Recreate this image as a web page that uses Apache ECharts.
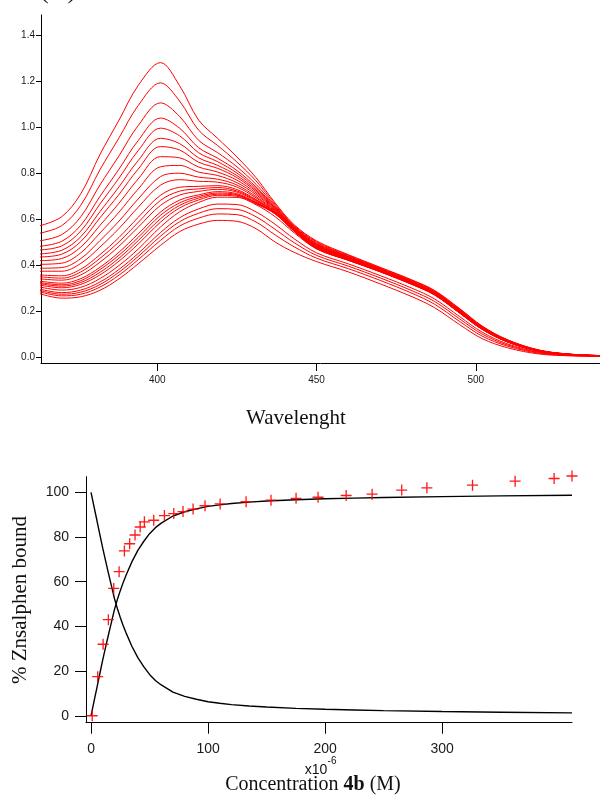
<!DOCTYPE html>
<html><head><meta charset="utf-8">
<script src="https://cdn.jsdelivr.net/npm/echarts@6/dist/echarts.min.js"></script>
<style>html,body{margin:0;padding:0;background:#fff}#c{width:600px;height:796px}</style>
</head><body><div id="c"></div>
<script>
// ---------- Panel A: absorption spectra ----------
const wavelengths = [363, 370, 376, 382, 388, 394, 401, 407, 413, 419, 425, 431, 437, 443, 450, 460, 470, 480, 487, 495, 502, 510, 520, 530, 540];
const spectrum01 = [0.57, 0.61, 0.71, 0.88, 1.03, 1.18, 1.28, 1.18, 1.03, 0.95, 0.87, 0.78, 0.67, 0.575, 0.505, 0.445, 0.39, 0.335, 0.29, 0.21, 0.135, 0.075, 0.03, 0.012, 0.006];
const spectrum02 = [0.538, 0.571, 0.66, 0.814, 0.953, 1.093, 1.192, 1.113, 0.986, 0.919, 0.848, 0.766, 0.664, 0.571, 0.501, 0.442, 0.388, 0.333, 0.288, 0.208, 0.133, 0.074, 0.029, 0.012, 0.006];
const spectrum03 = [0.505, 0.532, 0.61, 0.748, 0.875, 1.006, 1.105, 1.046, 0.942, 0.888, 0.827, 0.751, 0.658, 0.568, 0.497, 0.439, 0.385, 0.33, 0.285, 0.205, 0.131, 0.073, 0.029, 0.012, 0.006];
const spectrum04 = [0.481, 0.503, 0.573, 0.698, 0.817, 0.941, 1.039, 0.995, 0.91, 0.864, 0.811, 0.74, 0.653, 0.565, 0.493, 0.437, 0.383, 0.328, 0.283, 0.203, 0.13, 0.072, 0.028, 0.011, 0.006];
const spectrum05 = [0.465, 0.483, 0.548, 0.665, 0.778, 0.897, 0.995, 0.962, 0.888, 0.849, 0.8, 0.733, 0.65, 0.563, 0.491, 0.435, 0.382, 0.327, 0.282, 0.202, 0.129, 0.071, 0.028, 0.011, 0.006];
const spectrum06 = [0.448, 0.464, 0.523, 0.632, 0.74, 0.854, 0.951, 0.928, 0.866, 0.833, 0.789, 0.726, 0.647, 0.561, 0.489, 0.434, 0.381, 0.326, 0.281, 0.201, 0.128, 0.07, 0.028, 0.011, 0.006];
const spectrum07 = [0.435, 0.447, 0.502, 0.605, 0.707, 0.817, 0.915, 0.9, 0.847, 0.82, 0.78, 0.72, 0.645, 0.56, 0.487, 0.432, 0.38, 0.325, 0.28, 0.2, 0.127, 0.07, 0.028, 0.011, 0.006];
const spectrum08 = [0.419, 0.428, 0.478, 0.572, 0.669, 0.774, 0.871, 0.866, 0.826, 0.804, 0.769, 0.713, 0.642, 0.558, 0.485, 0.431, 0.379, 0.324, 0.279, 0.199, 0.127, 0.069, 0.027, 0.011, 0.005];
const spectrum09 = [0.403, 0.408, 0.453, 0.539, 0.63, 0.73, 0.827, 0.833, 0.804, 0.789, 0.758, 0.706, 0.639, 0.556, 0.483, 0.429, 0.378, 0.323, 0.278, 0.198, 0.126, 0.069, 0.027, 0.011, 0.005];
const spectrum10 = [0.386, 0.389, 0.428, 0.506, 0.591, 0.687, 0.784, 0.799, 0.782, 0.773, 0.748, 0.698, 0.636, 0.555, 0.481, 0.428, 0.376, 0.321, 0.276, 0.196, 0.125, 0.068, 0.027, 0.011, 0.005];
const spectrum11 = [0.373, 0.373, 0.407, 0.478, 0.559, 0.651, 0.747, 0.771, 0.764, 0.76, 0.739, 0.692, 0.633, 0.553, 0.479, 0.427, 0.375, 0.32, 0.275, 0.195, 0.124, 0.068, 0.026, 0.011, 0.005];
const spectrum12 = [0.357, 0.353, 0.382, 0.445, 0.52, 0.607, 0.703, 0.738, 0.742, 0.745, 0.728, 0.685, 0.63, 0.551, 0.477, 0.425, 0.374, 0.319, 0.274, 0.194, 0.123, 0.067, 0.026, 0.01, 0.005];
const spectrum13 = [0.349, 0.343, 0.37, 0.429, 0.501, 0.585, 0.681, 0.721, 0.731, 0.737, 0.722, 0.682, 0.629, 0.55, 0.476, 0.424, 0.374, 0.319, 0.274, 0.194, 0.123, 0.067, 0.026, 0.01, 0.005];
const spectrum14 = [0.34, 0.334, 0.357, 0.412, 0.482, 0.564, 0.659, 0.704, 0.72, 0.729, 0.717, 0.678, 0.627, 0.549, 0.475, 0.424, 0.373, 0.318, 0.273, 0.193, 0.122, 0.066, 0.026, 0.01, 0.005];
const spectrum15 = [0.33, 0.321, 0.341, 0.39, 0.456, 0.535, 0.63, 0.682, 0.705, 0.719, 0.71, 0.673, 0.625, 0.548, 0.474, 0.423, 0.372, 0.317, 0.272, 0.192, 0.122, 0.066, 0.026, 0.01, 0.005];
const spectrum16 = [0.324, 0.314, 0.332, 0.38, 0.443, 0.52, 0.616, 0.67, 0.698, 0.713, 0.706, 0.671, 0.624, 0.548, 0.473, 0.422, 0.372, 0.317, 0.272, 0.192, 0.121, 0.066, 0.026, 0.01, 0.005];
const spectrum17 = [0.319, 0.308, 0.324, 0.368, 0.43, 0.506, 0.601, 0.659, 0.691, 0.708, 0.703, 0.668, 0.623, 0.547, 0.472, 0.421, 0.371, 0.316, 0.271, 0.191, 0.121, 0.066, 0.025, 0.01, 0.005];
const spectrum18 = [0.313, 0.301, 0.316, 0.357, 0.417, 0.491, 0.586, 0.648, 0.683, 0.703, 0.699, 0.666, 0.622, 0.546, 0.471, 0.421, 0.371, 0.316, 0.271, 0.191, 0.121, 0.065, 0.025, 0.01, 0.005];
const spectrum19 = [0.305, 0.291, 0.303, 0.341, 0.398, 0.469, 0.565, 0.631, 0.672, 0.695, 0.694, 0.662, 0.61, 0.54, 0.47, 0.42, 0.37, 0.315, 0.27, 0.19, 0.12, 0.065, 0.025, 0.01, 0.005];
const spectrum20 = [0.296, 0.28, 0.291, 0.326, 0.381, 0.45, 0.541, 0.605, 0.644, 0.665, 0.663, 0.631, 0.577, 0.514, 0.453, 0.405, 0.354, 0.299, 0.253, 0.175, 0.108, 0.057, 0.021, 0.008, 0.004];
const spectrum21 = [0.29, 0.273, 0.282, 0.315, 0.369, 0.437, 0.525, 0.588, 0.625, 0.645, 0.642, 0.61, 0.555, 0.497, 0.442, 0.395, 0.344, 0.288, 0.242, 0.165, 0.1, 0.052, 0.019, 0.0075, 0.0035];
const spectrum22 = [0.284, 0.266, 0.273, 0.304, 0.356, 0.423, 0.507, 0.569, 0.604, 0.622, 0.619, 0.587, 0.531, 0.479, 0.43, 0.384, 0.333, 0.277, 0.23, 0.154, 0.091, 0.047, 0.016, 0.006, 0.0025];
const spectrum23 = [0.276, 0.256, 0.262, 0.29, 0.34, 0.405, 0.485, 0.545, 0.578, 0.594, 0.59, 0.558, 0.5, 0.455, 0.415, 0.37, 0.318, 0.262, 0.215, 0.14, 0.08, 0.04, 0.013, 0.005, 0.002];
const spectra = [spectrum01, spectrum02, spectrum03, spectrum04, spectrum05, spectrum06, spectrum07, spectrum08,
  spectrum09, spectrum10, spectrum11, spectrum12, spectrum13, spectrum14, spectrum15, spectrum16,
  spectrum17, spectrum18, spectrum19, spectrum20, spectrum21, spectrum22, spectrum23];
const absTicks = [0.0, 0.2, 0.4, 0.6, 0.8, 1.0, 1.2, 1.4];
const wlTicks = [400, 450, 500];

// ---------- Panel B: binding titration ----------
const concPoints = [1, 5.7, 10.3, 14.8, 19.4, 24, 28.5, 33, 37.6, 42, 45.6, 53.6, 62.7, 70.7, 78.6, 87.2, 97.4, 110.3, 132.5, 153.8, 175.2, 194, 218, 240.2, 265.5, 287, 326, 362.4, 395.7, 411];
const boundPoints = [0, 17.5, 32, 43, 57, 64.5, 73.8, 77, 80.9, 84.5, 86.8, 87.5, 89.6, 90.5, 91.4, 92.5, 94, 94.8, 95.8, 96.5, 97.3, 97.8, 98.6, 99.2, 101, 102, 103.2, 105, 106.2, 107.3];
const fitConc = [0, 2.5, 5, 7.5, 10, 12.5, 15, 17.5, 20, 22.5, 25, 27.5, 30, 35, 40, 45, 50, 55, 60, 70, 80, 90, 100, 110, 120, 135, 150, 175, 200, 225, 250, 300, 350, 411];
const fitBound = [0, 6.3, 12.5, 18.8, 25, 30.8, 36.5, 42, 47.5, 52, 56, 59.7, 63, 69, 74, 78, 81.5, 84.2, 86.2, 89.4, 91.3, 92.6, 93.7, 94.4, 95, 95.6, 96.1, 96.7, 97.1, 97.4, 97.7, 98.1, 98.4, 98.7];
const fitFree = [100, 93.7, 87.5, 81.2, 75, 69.2, 63.5, 58, 52.5, 48, 44, 40.3, 37, 31, 26, 22, 18.5, 15.8, 13.8, 10.6, 8.7, 7.4, 6.3, 5.6, 5, 4.4, 3.9, 3.3, 2.9, 2.6, 2.3, 1.9, 1.6, 1.3];
const concTicks = [0, 100, 200, 300];
const pctTicks = [0, 20, 40, 60, 80, 100];

const SANS = 'Liberation Sans, Arial, sans-serif';
const SERIF = 'Liberation Serif, Times New Roman, serif';
const chart = echarts.init(document.getElementById('c'), null, {renderer: 'canvas'});

const spectrumSeries = spectra.map(s => ({
  type: 'line', xAxisIndex: 0, yAxisIndex: 0,
  data: wavelengths.map((w, j) => [w, s[j]]),
  showSymbol: false, smooth: 0.35, silent: true,
  lineStyle: {color: '#ff0000', width: 1}
}));

function axisCommon(ticks, tickLen, fontSize, margin, fmt) {
  return {
    axisLine: {show: true, onZero: false, lineStyle: {color: '#000', width: 1}},
    axisTick: {show: true, customValues: ticks, length: tickLen, lineStyle: {color: '#000', width: 1}},
    axisLabel: {customValues: ticks, fontSize: fontSize, margin: margin, color: '#1a1a1a', fontFamily: SANS,
      formatter: fmt || (v => String(v))},
    splitLine: {show: false}
  };
}

chart.setOption({
  animation: false,
  backgroundColor: '#fff',
  grid: [
    {left: 41, top: 15, right: 0, height: 348},
    {left: 86, top: 476.7, width: 486, height: 246}
  ],
  xAxis: [
    Object.assign({type: 'value', gridIndex: 0, min: 363.5, max: 539}, axisCommon(wlTicks, 8, 10, 12)),
    Object.assign({type: 'value', gridIndex: 1, min: -4.3, max: 411}, axisCommon(concTicks, 11, 14, 19))
  ],
  yAxis: [
    Object.assign({type: 'value', gridIndex: 0, min: -0.026, max: 1.487}, axisCommon(absTicks, 5, 10, 6, v => v.toFixed(1))),
    Object.assign({type: 'value', gridIndex: 1, min: -3.1, max: 107}, axisCommon(pctTicks, 11, 14, 17))
  ],
  series: spectrumSeries.concat([
    {type: 'line', xAxisIndex: 1, yAxisIndex: 1, data: fitConc.map((x, i) => [x, fitBound[i]]),
      showSymbol: false, smooth: false, lineStyle: {color: '#000', width: 1.4}},
    {type: 'line', xAxisIndex: 1, yAxisIndex: 1, data: fitConc.map((x, i) => [x, fitFree[i]]),
      showSymbol: false, smooth: false, lineStyle: {color: '#000', width: 1.4}},
    {type: 'scatter', xAxisIndex: 1, yAxisIndex: 1, clip: false,
      data: concPoints.map((x, i) => [x, boundPoints[i]]),
      symbol: 'path://M4.4,0H5.6V10H4.4Z M0,4.4H10V5.6H0Z', symbolSize: 11,
      itemStyle: {color: '#ff0000', opacity: 0.9}, z: 5}
  ]),
  graphic: [
    {type: 'text', left: 40, top: -22, style: {text: '(A)', font: '26px ' + SERIF, fill: '#111'}},
    {type: 'text', x: 296, y: 418, style: {text: 'Wavelenght', font: '21px ' + SERIF, fill: '#111', align: 'center', verticalAlign: 'middle'}},
    {type: 'text', x: 20, y: 600, rotation: Math.PI / 2,
      style: {text: '% Znsalphen bound', font: '21px ' + SERIF, fill: '#111', align: 'center', verticalAlign: 'middle'}},
    {type: 'text', x: 316, y: 770, style: {text: 'x10', font: '14px ' + SANS, fill: '#111', align: 'center', verticalAlign: 'middle'}},
    {type: 'text', x: 332, y: 761, style: {text: '-6', font: '10px ' + SANS, fill: '#111', align: 'center', verticalAlign: 'middle'}},
    {type: 'text', x: 313, y: 785, style: {
      text: '{n|Concentration }{b|4b}{n| (M)}', align: 'center', verticalAlign: 'middle',
      rich: {n: {font: '20px ' + SERIF, fill: '#111'}, b: {font: 'bold 20px ' + SERIF, fill: '#111'}}}}
  ]
});
</script>
</body></html>
